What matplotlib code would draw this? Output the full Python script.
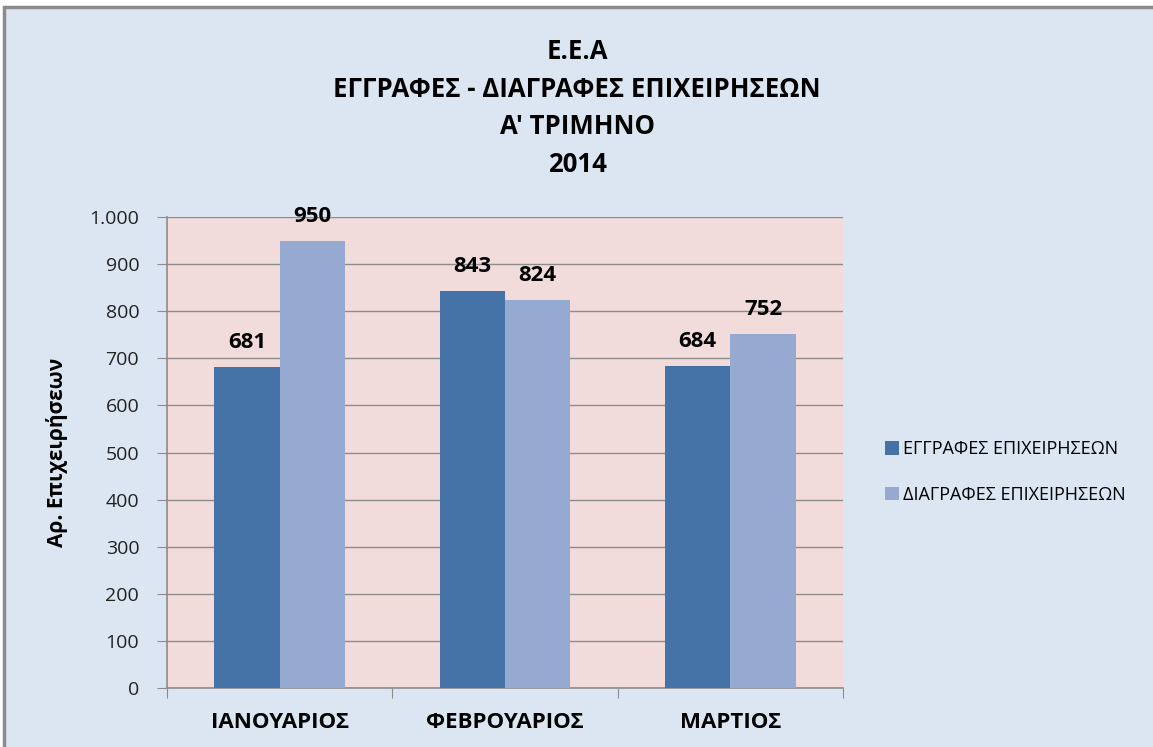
import numpy as np
import matplotlib.pyplot as plt
from matplotlib.patches import Rectangle

plt.rcParams['font.family'] = ['Open Sans', 'DejaVu Sans']

months = ['ΙΑΝΟΥΑΡΙΟΣ', 'ΦΕΒΡΟΥΑΡΙΟΣ', 'ΜΑΡΤΙΟΣ']
eggrafes = [681, 843, 684]
diagrafes = [950, 824, 752]
series_names = ['ΕΓΓΡΑΦΕΣ ΕΠΙΧΕΙΡΗΣΕΩΝ', 'ΔΙΑΓΡΑΦΕΣ ΕΠΙΧΕΙΡΗΣΕΩΝ']
yticks = [0, 100, 200, 300, 400, 500, 600, 700, 800, 900, 1000]
ytick_labels = ['0', '100', '200', '300', '400', '500', '600', '700', '800', '900', '1.000']
title = 'Ε.Ε.Α\nΕΓΓΡΑΦΕΣ - ΔΙΑΓΡΑΦΕΣ ΕΠΙΧΕΙΡΗΣΕΩΝ\nΑ\' ΤΡΙΜΗΝΟ\n2014'

W, H = 1153, 747
fig = plt.figure(figsize=(W / 100, H / 100), dpi=100)
fig.patch.set_facecolor('white')

# chart area frame (light blue with grey border, runs off right/bottom)
fig.patches.append(Rectangle((4 / W, -0.2), 1.2, 1.2 - 7 / H, transform=fig.transFigure,
                             facecolor='#DCE6F2', edgecolor='#8C8C8C', linewidth=2.5,
                             zorder=-1))

ax = fig.add_axes([167 / W, 1 - 688 / H, (843 - 167) / W, (688 - 217) / H])
ax.set_facecolor('#F2DCDB')

x = np.arange(len(months))
w = 0.29
b1 = ax.bar(x - w / 2, eggrafes, w, color='#4572A7', label=series_names[0], zorder=3)
b2 = ax.bar(x + w / 2, diagrafes, w, color='#95A9D1', label=series_names[1], zorder=3)

for bars in (b1, b2):
    for r in bars:
        ax.annotate(f'{int(r.get_height())}', (r.get_x() + r.get_width() / 2, r.get_height()),
                    xytext=(0, 10), textcoords='offset points', ha='center', va='bottom',
                    fontsize=16, fontweight='bold', color='black')

ax.set_xlim(-0.5, 2.5)
ax.set_ylim(0, 1000)
ax.set_yticks(yticks)
ax.set_yticklabels(ytick_labels, fontsize=14, color='#222222')
ax.yaxis.grid(True, color='#8C8C8C', linewidth=1, zorder=1)
ax.set_axisbelow(True)

ax.set_xticks([-0.5, 0.5, 1.5, 2.5], minor=False)
ax.set_xticklabels([])
ax.set_xticks(x, minor=True)
ax.set_xticklabels(months, minor=True, fontsize=16, fontweight='bold')
ax.tick_params(axis='x', which='minor', length=0, pad=17)
ax.tick_params(axis='x', which='major', length=7, color='#8C8C8C', direction='out')
ax.tick_params(axis='y', length=7, color='#8C8C8C', direction='out', pad=13)

for s in ['top', 'right']:
    ax.spines[s].set_visible(False)
for s in ['left', 'bottom']:
    ax.spines[s].set_color('#8C8C8C')
    ax.spines[s].set_linewidth(1.2)

ax.set_ylabel('Αρ. Επιχειρήσεων', fontsize=15, fontweight='bold', va='center')
ax.yaxis.set_label_coords((57 - 167) / 676, 0.5)

fig.text(577 / W, 1 - 108 / H, title, ha='center', va='center', fontsize=18.5,
         fontweight='bold', linespacing=1.5)

leg = fig.legend(handles=[b1, b2], loc='center left', bbox_to_anchor=(885 / W, 1 - 472 / H),
                 frameon=False, fontsize=13, handlelength=0.78, handleheight=0.78,
                 handletextpad=0.2, labelspacing=1.55, borderpad=0, borderaxespad=0)

fig.savefig('out.png', dpi=100, facecolor=fig.get_facecolor())
